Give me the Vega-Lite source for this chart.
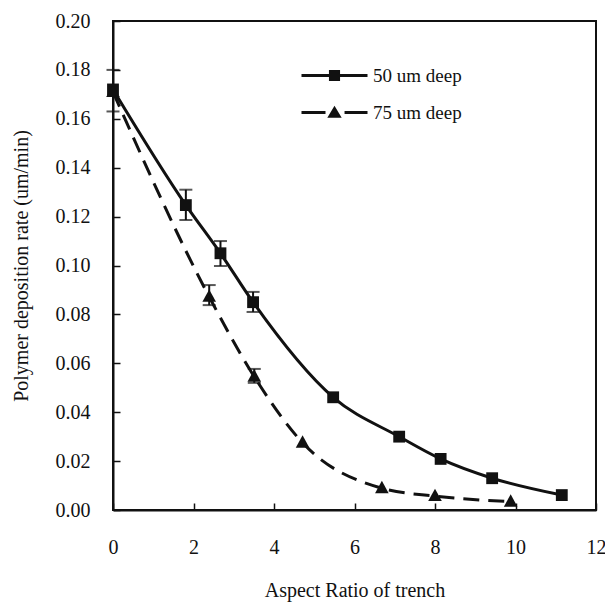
{
  "$schema": "https://vega.github.io/schema/vega-lite/v6.json",
  "width": 483,
  "height": 489,
  "autosize": "none",
  "padding": {"left": 113, "top": 21, "right": 9, "bottom": 95},
  "background": "white",
  "config": {
    "view": {"stroke": "#111", "strokeWidth": 2},
    "axis": {
      "labelFont": "Liberation Serif, Times New Roman, serif",
      "titleFont": "Liberation Serif, Times New Roman, serif",
      "labelFontSize": 20,
      "titleFontSize": 20,
      "labelColor": "#111",
      "titleColor": "#111",
      "titleFontWeight": "normal",
      "domainColor": "#111",
      "domainWidth": 2,
      "tickColor": "#111",
      "tickWidth": 1.5,
      "tickSize": -7,
      "labelFlush": false,
      "grid": false
    }
  },
  "datasets": {
    "pts": [
      {"series": "50 um deep", "x": 0, "y": 0.172, "lo": 0.163, "hi": 0.180},
      {"series": "50 um deep", "x": 1.81, "y": 0.1247, "lo": 0.1186, "hi": 0.131},
      {"series": "50 um deep", "x": 2.67, "y": 0.105, "lo": 0.0998, "hi": 0.110},
      {"series": "50 um deep", "x": 3.48, "y": 0.085, "lo": 0.081, "hi": 0.0892},
      {"series": "50 um deep", "x": 5.47, "y": 0.0461, "lo": null, "hi": null},
      {"series": "50 um deep", "x": 7.11, "y": 0.030, "lo": null, "hi": null},
      {"series": "50 um deep", "x": 8.14, "y": 0.0209, "lo": null, "hi": null},
      {"series": "50 um deep", "x": 9.42, "y": 0.013, "lo": null, "hi": null},
      {"series": "50 um deep", "x": 11.15, "y": 0.0061, "lo": null, "hi": null},
      {"series": "75 um deep", "x": 0, "y": 0.171, "lo": null, "hi": null},
      {"series": "75 um deep", "x": 2.39, "y": 0.0872, "lo": 0.0838, "hi": 0.092},
      {"series": "75 um deep", "x": 3.51, "y": 0.0545, "lo": 0.052, "hi": 0.0577},
      {"series": "75 um deep", "x": 4.71, "y": 0.0275, "lo": null, "hi": null},
      {"series": "75 um deep", "x": 6.68, "y": 0.0089, "lo": null, "hi": null},
      {"series": "75 um deep", "x": 8.0, "y": 0.0057, "lo": null, "hi": null},
      {"series": "75 um deep", "x": 9.88, "y": 0.0034, "lo": null, "hi": null}
    ]
  },
  "data": {"name": "pts"},
  "encoding": {
    "x": {
      "field": "x",
      "type": "quantitative",
      "scale": {"domain": [0, 12], "nice": false},
      "axis": {"values": [0, 2, 4, 6, 8, 10, 12], "title": "Aspect Ratio of trench", "labelPadding": 34, "titlePadding": 23}
    }
  },
  "layer": [
    {
      "transform": [{"filter": "datum.series === '50 um deep'"}],
      "mark": {"type": "line", "interpolate": "monotone", "strokeWidth": 3, "color": "#111"},
      "encoding": {
        "y": {
          "field": "y",
          "type": "quantitative",
          "scale": {"domain": [0, 0.2], "nice": false},
          "axis": {"values": [0, 0.02, 0.04, 0.06, 0.08, 0.1, 0.12, 0.14, 0.16, 0.18, 0.2], "format": ".2f", "title": "Polymer deposition rate (um/min)", "labelPadding": 30, "titlePadding": 24}
        }
      }
    },
    {
      "transform": [{"filter": "datum.series === '75 um deep'"}],
      "mark": {"type": "line", "interpolate": "monotone", "strokeWidth": 3, "color": "#111", "strokeDash": [16, 9]},
      "encoding": {
        "y": {"field": "y", "type": "quantitative"}
      }
    },
    {
      "transform": [{"filter": "isValid(datum.lo)"}],
      "mark": {"type": "rule", "strokeWidth": 2, "color": "#111"},
      "encoding": {
        "y": {"field": "lo", "type": "quantitative"},
        "y2": {"field": "hi"}
      }
    },
    {
      "transform": [{"filter": "isValid(datum.lo)"}],
      "mark": {"type": "tick", "orient": "horizontal", "size": 13, "thickness": 2, "color": "#111"},
      "encoding": {
        "y": {"field": "lo", "type": "quantitative"}
      }
    },
    {
      "transform": [{"filter": "isValid(datum.lo)"}],
      "mark": {"type": "tick", "orient": "horizontal", "size": 13, "thickness": 2, "color": "#111"},
      "encoding": {
        "y": {"field": "hi", "type": "quantitative"}
      }
    },
    {
      "transform": [{"filter": "datum.series === '50 um deep'"}],
      "mark": {"type": "point", "shape": "square", "filled": true, "opacity": 1, "color": "#111", "size": 140},
      "encoding": {
        "y": {"field": "y", "type": "quantitative"}
      }
    },
    {
      "transform": [{"filter": "datum.series === '75 um deep'"}],
      "mark": {"type": "point", "shape": "M0,-1.25L1.15,0.85L-1.15,0.85Z", "filled": true, "opacity": 1, "color": "#111", "size": 140},
      "encoding": {
        "y": {"field": "y", "type": "quantitative"}
      }
    },
    {
      "transform": [{"filter": "false"}],
      "mark": {"type": "point", "filled": true, "color": "#111", "opacity": 1},
      "encoding": {
        "y": {"field": "y", "type": "quantitative"},
        "shape": {
          "field": "series",
          "type": "nominal",
          "scale": {
            "domain": ["50 um deep", "75 um deep"],
            "range": [
              "M-2.2,-0.1L2.2,-0.1L2.2,0.1L-2.2,0.1Z M-0.37,-0.37L0.37,-0.37L0.37,0.37L-0.37,0.37Z",
              "M-2.2,-0.1L-0.6,-0.1L-0.6,0.1L-2.2,0.1Z M0.67,-0.1L2.2,-0.1L2.2,0.1L0.67,0.1Z M0,-0.45L0.48,0.35L-0.48,0.35Z"
            ]
          },
          "legend": {
            "title": null,
            "orient": "none",
            "legendX": 205,
            "legendY": 38,
            "symbolSize": 900,
            "symbolStrokeWidth": 3,
            "symbolFillColor": "#111",
            "symbolOpacity": 1,
            "labelFont": "Liberation Serif, Times New Roman, serif",
            "labelFontSize": 19,
            "labelColor": "#111",
            "labelOffset": 22,
            "rowPadding": 8
          }
        }
      }
    }
  ]
}
